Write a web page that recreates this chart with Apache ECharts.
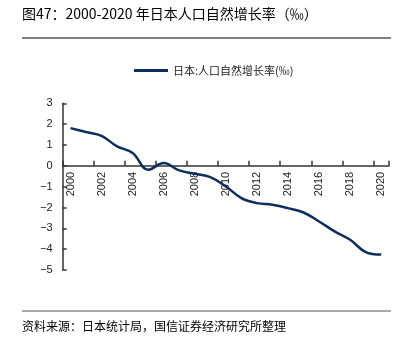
<!DOCTYPE html>
<html><head><meta charset="utf-8">
<script src="https://cdn.jsdelivr.net/npm/echarts@6/dist/echarts.min.js"></script>
<style>html,body{margin:0;padding:0;background:#fff}#c{width:406px;height:343px}</style>
</head><body><div id="c"></div>
<script>
const years = ['2000','2001','2002','2003','2004','2005','2006','2007','2008','2009','2010','2011','2012','2013','2014','2015','2016','2017','2018','2019','2020'];
const rate = [1.81,1.62,1.44,0.93,0.62,-0.19,0.13,-0.22,-0.38,-0.54,-0.99,-1.55,-1.79,-1.87,-2.03,-2.24,-2.67,-3.15,-3.55,-4.14,-4.26];
const yTicks = [-5,-4,-3,-2,-1,0,1,2,3];
const seriesName = '日本:人口自然增长率(‰)';
const titleText = '图47：2000-2020 年日本人口自然增长率（‰）';
const sourceText = '资料来源：日本统计局，国信证券经济研究所整理';
const FONT = '"Noto Sans CJK SC", sans-serif';
const gridTop = 103.3, gridBottom = 73, H = 343;
const plotH = H - gridTop - gridBottom;
const yMin = yTicks[0], yMax = yTicks[yTicks.length-1];
const zeroOffset = -plotH * (0 - yMin) / (yMax - yMin);
const chart = echarts.init(document.getElementById('c'));
chart.setOption({
  animation:false,
  textStyle:{fontFamily:FONT},
  graphic:[
    {type:'text',left:22,top:7,style:{text:titleText,font:'14px '+FONT,fill:'#000'}},
    {type:'line',shape:{x1:22,y1:38,x2:391,y2:38},style:{stroke:'#000',lineWidth:1}},
    {type:'line',shape:{x1:22,y1:311,x2:391,y2:311},style:{stroke:'#555',lineWidth:1}},
    {type:'text',left:22,top:320,style:{text:sourceText,font:'12px '+FONT,fill:'#000'}}
  ],
  legend:{top:60,left:129,itemWidth:34,itemHeight:3,itemGap:5,
    textStyle:{fontSize:11,color:'#222',fontFamily:FONT},
    data:[{name:seriesName,icon:'rect'}]},
  grid:{left:62.7,right:17,top:gridTop,bottom:gridBottom,containLabel:false},
  xAxis:{type:'category',data:years,boundaryGap:true,offset:zeroOffset,
    axisLine:{onZero:false,lineStyle:{color:'#333',width:1.5}},
    axisTick:{show:true,inside:true,interval:1,length:5,lineStyle:{color:'#333',width:1.5}},
    axisLabel:{rotate:90,interval:1,color:'#222',fontSize:11,margin:6,fontFamily:'Liberation Sans, Arial'}
  },
  yAxis:{type:'value',min:yMin,max:yMax,interval:1,
    splitLine:{show:false},
    axisLine:{show:true,lineStyle:{color:'#333',width:1.5}},
    axisTick:{show:true,inside:true,length:4,lineStyle:{color:'#333',width:1.5}},
    axisLabel:{color:'#222',fontSize:11,margin:10,fontFamily:'Liberation Sans, Arial',
      formatter:v=>v<0?'\u2212'+Math.abs(v):String(v)}
  },
  series:[{name:seriesName,type:'line',data:rate,smooth:0.4,showSymbol:false,
    lineStyle:{color:'#0c2f5f',width:2.5},itemStyle:{color:'#0c2f5f'}}]
});
</script></body></html>
